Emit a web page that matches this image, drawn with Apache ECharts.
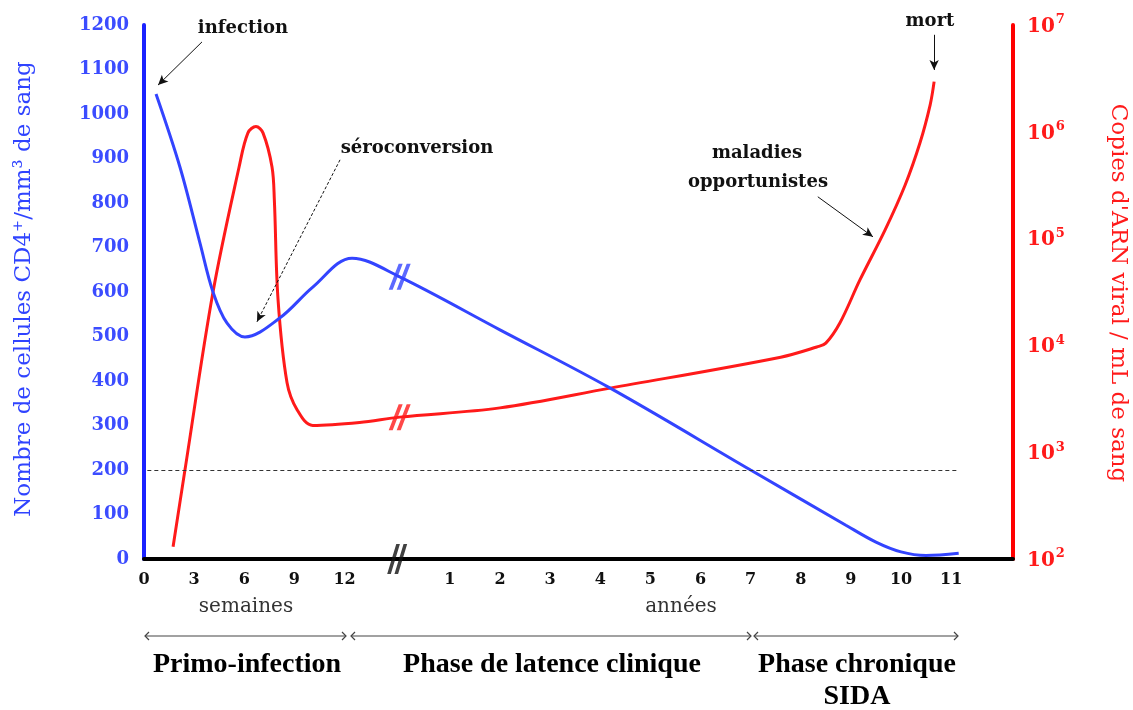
<!DOCTYPE html>
<html><head><meta charset="utf-8">
<script src="https://cdn.jsdelivr.net/npm/echarts@6/dist/echarts.min.js"></script>
<style>html,body{margin:0;padding:0;background:#fff}#c{width:1133px;height:710px}</style>
</head><body><div id="c"></div>
<script>
// ---- tick labels ----
const weekTicks = [0, 3, 6, 9, 12];
const yearTicks = [1, 2, 3, 4, 5, 6, 7, 8, 9, 10, 11];

// ---- CD4 cells / mm3 : [week, value] then [year, value] ----
const cd4Weeks = [[0.72,1045],[2.15,881],[3.35,710],[4.13,600],[4.97,530],[6.04,499],[8.14,542],[10.1,611],[12.45,676]];
const cd4Years = [[0,634],[2,515],[4.2,384],[7,200],[8.9,76],[9.5,38],[10.0,16],[10.5,8],[11.15,13]];

// ---- viral RNA copies / mL : [week, value] then [year, value] ----
const rnaWeeks = [[1.74,130],[2.45,680],[4.13,31600],[5.69,468000],[6.22,977000],[6.7,1120000],[7.12,977000],[7.66,468000],[7.8,229000],[8.02,27000],[8.56,4470],[9.16,2500],[10.1,1780],[12.9,1900]];
const rnaYears = [[0,2130],[2,2600],[4.2,3980],[7.6,7760],[8.32,9660],[8.5,10500],[8.78,16200],[9.18,41000],[9.68,120000],[10.08,316000],[10.38,794000],[10.58,1780000],[10.66,2950000]];

const cd4Threshold = 200;

// x scale: weeks shown directly, then years after a break
const YEAR0 = 15.3, YEAR_W = 3;
const yearPos = y => YEAR0 + YEAR_W * y;

const xLabelMap = {};
weekTicks.forEach(w => { xLabelMap[w.toFixed(2)] = String(w); });
yearTicks.forEach(y => { xLabelMap[yearPos(y).toFixed(2)] = String(y); });
const xCustom = weekTicks.concat(yearTicks.map(yearPos));

const cd4Data = cd4Weeks.map(p => [p[0], p[1]]).concat(cd4Years.map(p => [yearPos(p[0]), p[1]]));
const rnaData = rnaWeeks.map(p => [p[0], p[1]]).concat(rnaYears.map(p => [yearPos(p[0]), p[1]]));

const BLUE = '#3344ff', RED = '#ff1a1a';
const breakPath = 'path://M10,0 L14,0 L4,24 L0,24 Z M18,0 L22,0 L12,24 L8,24 Z';

function dblArrow(x1, x2, y) {
  const s = {stroke: '#444', lineWidth: 1.2, fill: null};
  return [
    {type: 'line', shape: {x1: x1, y1: y, x2: x2, y2: y}, style: s},
    {type: 'polyline', shape: {points: [[x1 + 4, y - 4], [x1, y], [x1 + 4, y + 4]]}, style: s},
    {type: 'polyline', shape: {points: [[x2 - 4, y - 4], [x2, y], [x2 - 4, y + 4]]}, style: s}
  ];
}
function txt(t, x, y, font, fill, rot) {
  return {type: 'text', x: x, y: y, rotation: rot || 0,
    style: {text: t, font: font, fill: fill, textAlign: 'center', textVerticalAlign: 'middle'}};
}
const annFont = 'bold 18px "DejaVu Serif"';
const phaseFont = 'bold 28px "Liberation Serif"';
const arrowStyle = {color: '#111', width: 1, type: 'solid'};

const chart = echarts.init(document.getElementById('c'), null, {renderer: 'canvas'});
chart.setOption({
  animation: false,
  backgroundColor: '#fff',
  grid: {left: 144, right: 120, top: 25, bottom: 151, containLabel: false, outerBoundsMode: 'none'},
  xAxis: {
    type: 'value', min: 0, max: 52, position: 'bottom',
    axisLine: {show: true, onZero: false, lineStyle: {color: '#000', width: 4}},
    axisTick: {show: false},
    splitLine: {show: false},
    axisLabel: {
      customValues: xCustom, margin: 13,
      color: '#111', fontFamily: 'DejaVu Serif', fontWeight: 'bold', fontSize: 16,
      formatter: v => xLabelMap[Number(v).toFixed(2)] || ''
    }
  },
  yAxis: [{
    type: 'value', min: 0, max: 1200, interval: 100, position: 'left',
    axisLine: {show: true, onZero: false, lineStyle: {color: '#1a22ff', width: 4}},
    axisTick: {show: false}, splitLine: {show: false},
    axisLabel: {margin: 15, color: '#3b4cff', fontFamily: 'DejaVu Serif', fontWeight: 'bold', fontSize: 18,
      formatter: v => String(v)}
  }, {
    type: 'log', logBase: 10, min: 100, max: 10000000, position: 'right',
    axisLine: {show: true, onZero: false, lineStyle: {color: '#ff0000', width: 4}},
    axisTick: {show: false}, splitLine: {show: false},
    axisLabel: {
      margin: 14,
      formatter: v => '{b|10}{s|' + Math.round(Math.log10(v)) + '}',
      rich: {
        b: {color: RED, fontFamily: 'DejaVu Serif', fontWeight: 'bold', fontSize: 20, verticalAlign: 'bottom'},
        s: {color: RED, fontFamily: 'DejaVu Serif', fontWeight: 'bold', fontSize: 13, verticalAlign: 'top', padding: [0, 0, 10, 1]}
      }
    }
  }],
  series: [{
    name: 'ARN', type: 'line', yAxisIndex: 1, data: rnaData, smooth: 0.35,
    showSymbol: false, symbol: 'none', lineStyle: {color: RED, width: 3}, z: 3
  }, {
    name: 'CD4', type: 'line', yAxisIndex: 0, data: cd4Data, smooth: 0.35,
    showSymbol: false, symbol: 'none', lineStyle: {color: BLUE, width: 3}, z: 4,
    markLine: {
      silent: true, symbol: ['none', 'arrow'], symbolSize: [7, 10], label: {show: false},
      data: [
        [{coord: [0.2, cd4Threshold], symbol: 'none', lineStyle: {color: '#333', width: 1, type: [4, 3]}},
         {coord: [yearPos(11.13), cd4Threshold], symbol: 'none'}],
        [{coord: [3.47, 1162], lineStyle: arrowStyle}, {coord: [0.84, 1065]}],
        [{coord: [11.73, 897], lineStyle: {color: '#111', width: 1, type: [3, 2]}}, {coord: [6.76, 533]}],
        [{coord: [yearPos(8.34), 814], lineStyle: arrowStyle}, {coord: [yearPos(9.44), 724]}],
        [{coord: [yearPos(10.66), 1178], lineStyle: arrowStyle}, {coord: [yearPos(10.66), 1099]}]
      ]
    }
  }, {
    name: 'breakCD4', type: 'scatter', yAxisIndex: 0, clip: false, z: 5, silent: true,
    data: [[yearPos(cd4Years[0][0]), cd4Years[0][1]]],
    symbol: breakPath, symbolSize: [22, 26], itemStyle: {color: BLUE}
  }, {
    name: 'breakRNA', type: 'scatter', yAxisIndex: 1, clip: false, z: 5, silent: true,
    data: [[yearPos(rnaYears[0][0]), rnaYears[0][1]]],
    symbol: breakPath, symbolSize: [22, 26], itemStyle: {color: RED}
  }, {
    name: 'breakAxis', type: 'scatter', yAxisIndex: 0, clip: false, z: 5, silent: true,
    data: [[YEAR0 - 0.15, 0]],
    symbol: breakPath, symbolSize: [20, 30], itemStyle: {color: '#111'}
  }],
  graphic: [
    txt('Nombre de cellules CD4\u207A/mm\u00B3 de sang', 24, 289, '23px "DejaVu Serif"', '#2f43ff', Math.PI / 2),
    txt("Copies d'ARN viral / mL de sang", 1118, 293, '23px "DejaVu Serif"', RED, -Math.PI / 2),
    txt('infection', 243, 28, annFont, '#111'),
    txt('séroconversion', 417, 148, annFont, '#111'),
    txt('maladies', 757, 153, annFont, '#111'),
    txt('opportunistes', 758, 182, annFont, '#111'),
    txt('mort', 930, 21, annFont, '#111'),
    txt('semaines', 246, 607, '20px "DejaVu Serif"', '#333'),
    txt('années', 681, 607, '20px "DejaVu Serif"', '#333'),
    txt('Primo-infection', 247, 665, phaseFont, '#000'),
    txt('Phase de latence clinique', 552, 665, phaseFont, '#000'),
    txt('Phase chronique', 857, 665, phaseFont, '#000'),
    txt('SIDA', 857, 697, phaseFont, '#000')
  ].concat(dblArrow(145, 346, 636), dblArrow(351, 751, 636), dblArrow(754, 958, 636))
});
</script></body></html>
